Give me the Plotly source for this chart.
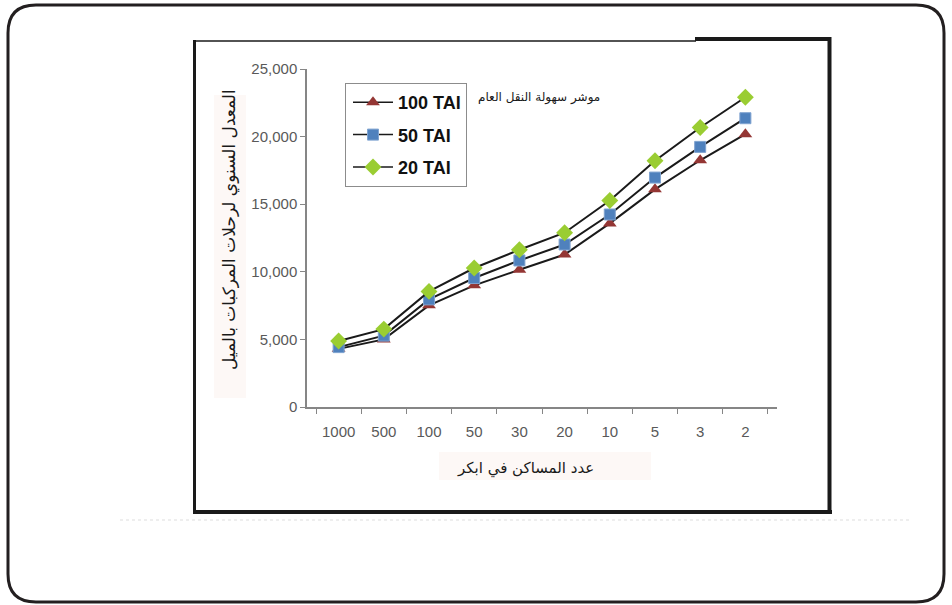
import plotly.graph_objects as go

categories = ["1000", "500", "100", "50", "30", "20", "10", "5", "3", "2"]
tai_100 = [4300, 5000, 7520, 9000, 10150, 11280, 13580, 16100, 18250, 20180]
tai_50 = [4430, 5280, 7960, 9540, 10840, 12020, 14240, 16970, 19240, 21360]
tai_20 = [4880, 5760, 8550, 10280, 11630, 12890, 15270, 18210, 20670, 22910]
series_names = ["100 TAI", "50 TAI", "20 TAI"]
y_title = "المعدل السنوي لرحلات المركبات بالميل"
x_title = "عدد المساكن في ابكر"
note_text = "موشر سهولة النقل العام"

W_FIG, H_FIG = 952, 605
L, R, T, B = 307, 777, 69, 407
PW, PH = R - L, B - T


def px(x):
    return (x - L) / PW


def py(y):
    return (B - y) / PH


fig = go.Figure()
styles = [
    dict(symbol="triangle-up", color="#943634", size=12, line=dict(width=0)),
    dict(symbol="square", color="#4F81BD", size=11, line=dict(width=1, color="#7FA3D0")),
    dict(symbol="diamond", color="#9ACD32", size=13, line=dict(width=0)),
]
for name, vals, st in zip(series_names, [tai_100, tai_50, tai_20], styles):
    fig.add_trace(go.Scatter(
        x=categories, y=vals, name=name, legendgroup=name, mode="lines+markers",
        line=dict(color="#1a1a1a", width=2),
        marker=st, showlegend=False,
    ))
    # legend entry (same name/style, thinner line so the key matches the reference)
    fig.add_trace(go.Scatter(
        x=[None], y=[None], name=name, legendgroup=name, mode="lines+markers",
        line=dict(color="#1a1a1a", width=1.5), marker=st, showlegend=True,
    ))

axis_font = dict(family="Liberation Sans, Arial, sans-serif", size=15, color="#595959")
fig.update_xaxes(
    type="category", showline=True, linecolor="#868686", linewidth=1.5,
    ticks="outside", tickson="boundaries", ticklen=5, tickcolor="#868686",
    tickfont=axis_font, showgrid=False, zeroline=False, ticklabelstandoff=10,
    categoryorder="array", categoryarray=categories,
)
fig.update_yaxes(
    range=[0, 25000], dtick=5000, tickformat=",", showline=True,
    linecolor="#868686", linewidth=1.5, ticks="outside", ticklen=5,
    tickcolor="#868686", tickfont=axis_font, showgrid=False, zeroline=False,
)

shapes = []
# outer rounded frame
x0, y0, x1, y1, r = 8, 5, 944, 602, 28
path = (f"M {px(x0+r)},{py(y0)} L {px(x1-r)},{py(y0)} "
        f"Q {px(x1)},{py(y0)} {px(x1)},{py(y0+r)} "
        f"L {px(x1)},{py(y1-r)} Q {px(x1)},{py(y1)} {px(x1-r)},{py(y1)} "
        f"L {px(x0+r)},{py(y1)} Q {px(x0)},{py(y1)} {px(x0)},{py(y1-r)} "
        f"L {px(x0)},{py(y0+r)} Q {px(x0)},{py(y0)} {px(x0+r)},{py(y0)} Z")
shapes.append(dict(type="path", xref="paper", yref="paper", path=path,
                   line=dict(color="#231F20", width=3)))


def seg(xa, ya, xb, yb, w, c="#1a1a1a", dash=None):
    d = dict(type="line", xref="paper", yref="paper",
             x0=px(xa), y0=py(ya), x1=px(xb), y1=py(yb),
             line=dict(color=c, width=w))
    if dash:
        d["line"]["dash"] = dash
    shapes.append(d)


# inner frame
seg(194.5, 40, 194.5, 513, 3)
seg(194, 41, 696, 41, 1.5)
seg(695, 39, 831, 39, 4)
seg(829.5, 37, 829.5, 514, 4)
seg(193, 512, 832, 512, 4)
# faint dotted line below
seg(120, 520, 910, 520, 1, c="#dddddd", dash="dot")
# title backgrounds
shapes.append(dict(type="rect", xref="paper", yref="paper", layer="below",
                   x0=px(439), x1=px(651), y0=py(480), y1=py(452),
                   fillcolor="#FDF8F6", line=dict(width=0)))
shapes.append(dict(type="rect", xref="paper", yref="paper", layer="below",
                   x0=px(214), x1=px(246), y0=py(398), y1=py(95),
                   fillcolor="#FDF8F6", line=dict(width=0)))

annotations = [
    dict(text=y_title, x=px(229), y=py(230), xref="paper", yref="paper",
         textangle=-90, showarrow=False,
         font=dict(family="DejaVu Sans, Noto Sans, sans-serif", size=17, color="#1a1a1a"),
         xanchor="center", yanchor="middle"),
    dict(text=x_title, x=px(525), y=py(468), xref="paper", yref="paper",
         showarrow=False,
         font=dict(family="DejaVu Sans, Noto Sans, sans-serif", size=15, color="#1a1a1a"),
         xanchor="center", yanchor="middle"),
    dict(text=note_text, x=px(602), y=py(97), xref="paper", yref="paper",
         showarrow=False,
         font=dict(family="DejaVu Sans, sans-serif", size=12, color="#1a1a1a"),
         xanchor="right", yanchor="middle"),
]

fig.update_layout(
    width=W_FIG, height=H_FIG,
    margin=dict(l=L, r=W_FIG - R, t=T, b=H_FIG - B, pad=0),
    paper_bgcolor="white", plot_bgcolor="white",
    shapes=shapes, annotations=annotations,
    legend=dict(
        x=px(345), y=py(83), xanchor="left", yanchor="top",
        bordercolor="#8c8c8c", borderwidth=1, bgcolor="white",
        font=dict(family="Liberation Sans Narrow, Arial Narrow, Liberation Sans, sans-serif",
                  size=18, color="#111111", weight="bold"),
        tracegroupgap=6, itemwidth=40, indentation=2,
    ),
    showlegend=True,
)

fig.write_html(
    "out.html",
    config={"displayModeBar": False},
    post_script="document.body.style.margin='0';document.body.style.padding='0';",
)
